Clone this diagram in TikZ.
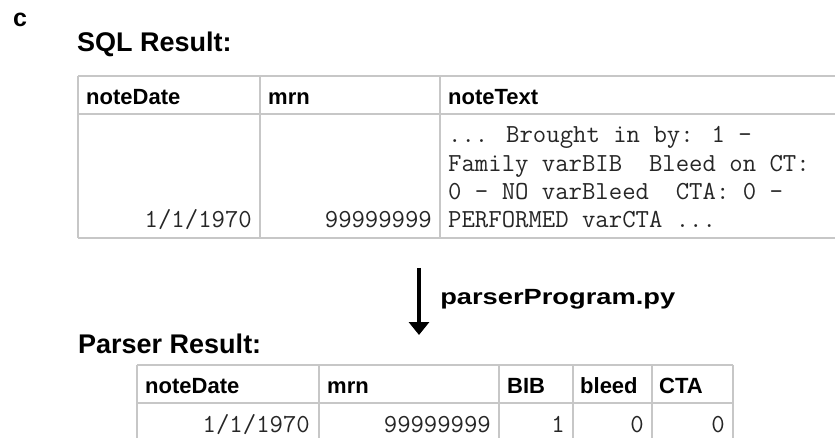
\documentclass[tikz,border=0pt]{standalone}
\usepackage{fontspec}
\setmainfont{Liberation Sans}
\usetikzlibrary{arrows.meta}
\begin{document}
\begin{tikzpicture}[x=1pt,y=-1pt,
  hd/.style={font=\bfseries\fontsize{22}{24}\selectfont, inner sep=0pt, anchor=base west},
  ttl/.style={font=\bfseries\fontsize{27}{30}\selectfont, inner sep=0pt, anchor=base west},
  mono/.style={font=\ttfamily\fontsize{26}{28}\selectfont, inner sep=0pt, text=black!85},
  monol/.style={mono, anchor=base west},
  monor/.style={mono, anchor=base east},
  grid/.style={draw=black!22, line width=1.2pt}]
\useasboundingbox (0,0) rectangle (835,438);

% labels
\node[anchor=base west, font=\bfseries\fontsize{25}{27}\selectfont, inner sep=0pt] (lab) at (13,27) {c};
\node[ttl] (sqlt) at (77,52) {SQL Result:};
\node[ttl] (part) at (78,353) {Parser Result:};

% table 1 grid
\draw[grid] (78,76) -- (835,76) (78,114) -- (835,114) (78,238) -- (835,238);
\draw[grid] (78,76) -- (78,238) (260,76) -- (260,238) (440,76) -- (440,238);

% table 1 text
\node[hd] (t1h1) at (86,105) {noteDate};
\node[hd] (t1h2) at (268,105) {mrn};
\node[hd] (t1h3) at (448,105) {noteText};
\node[monor] (t1v1) at (252,228) {1/1/1970};
\node[monor] (t1v2) at (432,228) {99999999};
\node[monol] (t1l1) at (448,143) {... Brought in by: 1 -};
\node[monol] (t1l2) at (448,171.3) {Family varBIB\ \ Bleed on CT:};
\node[monol] (t1l3) at (448,199.6) {0 - NO varBleed\ \ CTA: 0 -};
\node[monol] (t1l4) at (448,228) {PERFORMED varCTA ...};

% arrow
\coordinate (aS) at (419,268);
\coordinate (aE) at (419,335);
\draw[line width=4.5pt, -{Triangle[width=20pt,length=13pt]}] (aS) -- (aE);
\node[anchor=base west, font=\bfseries\fontsize{22}{24}\selectfont, inner sep=0pt, xscale=1.24] (prog) at (440,305) {parserProgram.py};

% table 2 grid
\draw[grid] (137,365) -- (733,365) (137,403) -- (733,403);
\foreach \xx in {137,319,499,573,652,733} \draw[grid] (\xx,365) -- (\xx,440);

% table 2 text
\node[hd] (t2h1) at (145,393) {noteDate};
\node[hd] (t2h2) at (327,393) {mrn};
\node[hd] (t2h3) at (507,393) {BIB};
\node[hd] (t2h4) at (580,393) {bleed};
\node[hd] (t2h5) at (659,393) {CTA};
\node[monor] (t2v1) at (310,432) {1/1/1970};
\node[monor] (t2v2) at (491,432) {99999999};
\node[monor] (t2v3) at (565,432) {1};
\node[monor] (t2v4) at (644,432) {0};
\node[monor] (t2v5) at (725,432) {0};
\end{tikzpicture}
\end{document}
